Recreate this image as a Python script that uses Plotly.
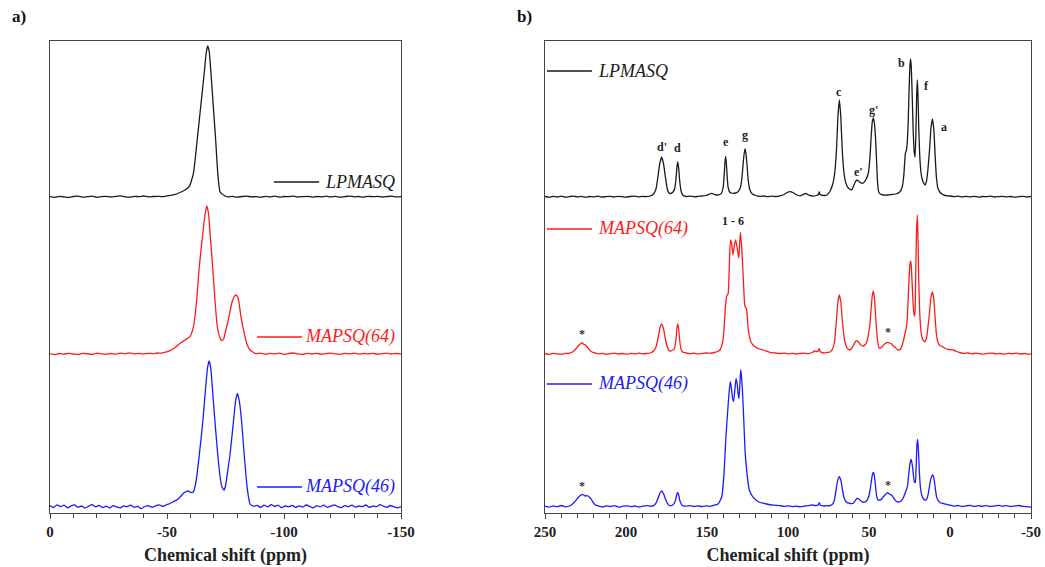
import plotly.graph_objects as go

# ---------------- data (ppm, intensity above own baseline, in plot units) ----------------
A_LPMASQ = [(0,0.4),(-2,-0.3),(-4,0.6),(-6,0.1),(-8,-0.4),(-10,0.5),(-12,0.9),(-14,-0.2),(-16,0.3),(-18,0.8),
 (-20,-0.3),(-22,0.4),(-24,0.7),(-26,0.0),(-28,0.6),(-30,1.1),(-32,0.2),(-34,-0.2),(-36,0.6),(-38,0.4),(-40,1.0),
 (-42,0.1),(-44,0.5),(-46,0.7),(-48,0.4),(-50,1.2),(-52,1.8),(-54.1,3.0),(-56,5.0),(-57.7,7.0),(-59.5,10.3),
 (-61.3,23.7),(-62.9,57),(-64.4,90.3),(-65.9,123.7),(-66.8,145),(-67.4,151),(-68.0,146),(-68.8,123.7),(-69.8,90.3),
 (-70.8,57),(-71.7,23.7),(-72.7,5),(-74.8,1),(-76,0.2),(-78,0.6),(-80,-0.2),(-82,0.5),(-84,0.9),(-86,0.1),(-88,0.4),
 (-90,-0.3),(-92,0.6),(-94,0.2),(-96,0.8),(-98,-0.1),(-100,0.5),(-102,0.3),(-104,0.9),(-106,0.0),(-108,0.4),(-110,0.7),
 (-112,-0.2),(-114,0.5),(-116,0.2),(-118,0.8),(-120,0.1),(-122,0.6),(-124,-0.2),(-126,0.4),(-128,0.9),(-130,0.2),
 (-132,0.5),(-134,-0.1),(-136,0.7),(-138,0.3),(-140,0.6),(-142,0.0),(-144,0.4),(-146,0.8),(-148,0.1),(-150,0.4)]

A_MAPSQ64 = [(0,0.3),(-2,-0.6),(-4,0.5),(-6,-0.2),(-8,0.7),(-10,0.0),(-12,-0.5),(-14,0.6),(-16,0.2),(-18,-0.4),
 (-20,0.8),(-22,0.1),(-24,-0.3),(-26,0.5),(-28,-0.2),(-30,0.9),(-32,0.3),(-34,1.2),(-36,0.2),(-38,0.6),(-40,-0.1),
 (-42,0.7),(-44,0.4),(-46,1.0),(-47.7,0.8),(-49.5,2.0),(-51.3,3.3),(-53.5,6.5),(-55.6,10.7),(-57.7,14),(-59.8,17.3),
 (-61.3,27.3),(-62.7,54),(-63.8,87.3),(-65.3,120.7),(-66.3,140),(-67.0,148),(-67.7,141),(-68.4,120.7),(-69.5,87.3),
 (-70.5,54),(-71.5,27),(-72.5,17),(-73.4,13.3),(-74.2,15),(-74.8,20.7),(-75.7,29),(-76.5,37.3),(-77.6,50),(-78.6,57),
 (-79.5,59),(-80.4,56),(-81.6,37.3),(-83.0,20.7),(-84.3,9),(-85.5,4),(-87,1.5),(-88,0.3),(-90,0.9),(-92,-0.2),
 (-94,0.6),(-96,0.1),(-98,0.8),(-100,-0.3),(-102,0.5),(-104,1.0),(-106,0.2),(-108,-0.4),(-110,0.6),(-112,0.0),
 (-114,0.7),(-116,-0.2),(-118,0.4),(-120,0.9),(-122,0.1),(-124,-0.3),(-126,0.6),(-128,0.2),(-130,0.8),(-132,-0.1),
 (-134,0.5),(-136,0.1),(-138,0.7),(-140,-0.2),(-142,0.4),(-144,0.8),(-146,0.0),(-148,0.5),(-150,0.2)]

A_MAPSQ46 = [(0,1.5),(-1.5,-0.5),(-3,2.2),(-4.5,0.3),(-6,1.8),(-7.5,-0.8),(-9,1.2),(-10.5,2.0),(-12,-0.4),(-13.5,1.0),
 (-15,-1.2),(-16.5,0.8),(-18,2.4),(-19.5,0.2),(-21,1.6),(-22.5,-0.6),(-24,0.9),(-25.5,-1.0),(-27,1.3),(-28.5,0.1),
 (-30,-0.8),(-31.5,1.1),(-33,0.4),(-34.5,1.9),(-36,-0.3),(-37.5,0.6),(-39,-1.6),(-40.5,0.5),(-42,1.4),(-43.5,-0.2),
 (-45,1.0),(-46.5,2.2),(-48.4,0.6),(-50,2.5),(-51.3,3.5),(-52.7,5.3),(-54.5,7.5),(-56,11),(-57,13.7),(-58.2,15.5),
 (-59.1,16),(-60.2,14.5),(-61.3,15.3),(-62.4,25.3),(-63.8,52),(-65.3,85.3),(-66.5,118.7),(-67.3,139),(-68.0,146),
 (-68.7,139),(-69.4,118.7),(-70.5,85.3),(-71.7,52),(-72.7,30),(-73.5,20),(-74.4,17),(-75.0,21),(-75.5,28.7),
 (-76.9,52),(-78.4,85.3),(-79.3,106),(-80.1,113.7),(-80.9,106),(-81.9,85.3),(-83.0,52),(-84.3,18.7),(-85.5,3),
 (-87,0.8),(-88.5,1.6),(-90,-0.5),(-91.5,1.8),(-93,0.2),(-94.5,2.4),(-96,0.5),(-97.5,1.9),(-99,-0.7),(-100.5,1.0),
 (-102,0.3),(-103.5,1.7),(-105,-0.4),(-106.5,1.2),(-108,0.0),(-109.5,2.0),(-111,0.6),(-112.5,-0.9),(-114,1.3),
 (-115.5,0.2),(-117,1.8),(-118.5,-0.3),(-120,0.9),(-121.5,2.1),(-123,0.4),(-124.5,-0.6),(-126,1.4),(-127.5,0.3),
 (-129,1.9),(-130.5,-0.2),(-132,1.0),(-133.5,0.4),(-135,2.0),(-136.5,-0.4),(-138,1.1),(-139.5,0.3),(-141,2.3),
 (-142.5,0.8),(-144,-0.3),(-145.5,1.5),(-147,0.2),(-148.5,-0.8),(-150,0.5)]

B_LPMASQ = [(250,0.5),(247.5,-0.3),(245,0.6),(242.5,0.0),(240,0.8),(237.5,-0.2),(235,0.4),(232.5,0.9),(230,0.1),
 (227.5,0.6),(225,-0.3),(222.5,0.5),(220,0.2),(217.5,0.8),(215,-0.1),(212.5,0.4),(210,0.7),(207.5,0.0),(205,0.6),
 (202.5,0.3),(200,-0.2),(197.5,0.5),(195,0.9),(192.5,0.2),(190,0.6),(187.5,0.4),
 (185,1),(183,3),(181.5,8),(180.3,20),(179.2,33),(178,40),(176.8,33),(175.7,20),(174.5,8),(173.5,4),(172.5,3.5),
 (171,5),(170,8),(169.2,17),(168.6,29),(168.1,35.3),(167.5,29),(166.9,17),(166,6),(165,2),(163,0.5),
 (160.5,0.9),(158,0.2),(155.5,0.6),(153,1.0),(150.5,1.5),(148.5,3),(147,3.7),(145.5,2.5),(144,2),
 (142,2.5),(141,4),(140,10),(139.3,24),(138.9,35),(138.5,40.3),(138.1,35),(137.6,22),(137,10),(136,5),(135,4),
 (133.8,3.7),(132.5,4),(131,5),(129.5,9),(128.5,18),(127.7,33),(127.1,43),(126.5,48),(125.9,43),(125.2,30),
 (124.5,16),(123.5,7),(122,3),(120,1.5),(117.5,0.6),(115,1.0),(112.5,0.3),(110,0.8),(107.5,0.5),(105,1.1),
 (102.5,2.5),(100.5,4.5),(98.8,5.3),(97,4.5),(95,2.5),(92.5,1.2),(90.5,2.5),(89,3.7),(87.5,2.2),(85,1.0),
 (82.5,1.5),(81.2,2.5),(80.7,5),(80.2,2.5),(78,1.5),(76,2),
 (74,6),(72.2,14),(71.1,25),(70.05,48),(69.2,80),(68.3,97),(67.4,80),(66.55,48),(65.5,25),(64.3,14),(62.8,9),
 (60.7,7),(59.5,11),(58.5,15),(57.6,17),(56.5,16),(55,14),(53.5,14),(52,17),(50.4,24),(49.4,40),(48.6,62),
 (47.9,76),(47.3,79),(46.7,74),(46.0,60),(45.3,35),(44.7,14),(44.0,5),(43,3),(41,2),(38.5,2),(36,2.5),(33.5,3),
 (31,5),(29.5,10),(28.5,22),(28,34),(27.5,44),(27.0,46),(26.5,52),(25.8,75),(25.2,110),(24.7,132),(24.3,138),
 (23.9,130),(23.3,100),(22.7,65),(22.1,45),(21.6,40),(21.1,60),(20.6,100),(20.2,117),(19.8,105),(19.3,70),
 (18.7,42),(18.0,26),(17.2,18),(16.3,14),(15.4,12),(14.5,16),(13.6,28),(12.6,48),(11.8,68),(10.9,78),(10.0,68),
 (9.2,42),(8.4,20),(7.5,9),(6.3,5),(5,3),(3,1.5),
 (0,1.0),(-2.5,0.3),(-5,0.8),(-7.5,0.1),(-10,0.6),(-12.5,0.2),(-15,0.7),(-17.5,-0.1),(-20,0.5),(-22.5,0.3),
 (-25,0.8),(-27.5,0.0),(-30,0.4),(-32.5,0.7),(-35,0.1),(-37.5,0.5),(-40,-0.2),(-42.5,0.4),(-45,0.6),(-47.5,0.0),(-50,0.3)]

B_MAPSQ64 = [(250,0.5),(247.5,-0.4),(245,0.7),(242.5,0.1),(240,-0.3),(237.5,0.6),(236,0.5),(233,2),(231,5),
 (229.5,8),(228,10.5),(227,11),(226,9.5),(225,9),(224,7),(222.5,4),(221,2),(219,1),(217,0.2),(214.5,0.7),
 (212,-0.3),(209.5,0.4),(207,0.9),(204.5,0.0),(202,0.5),(199.5,-0.2),(197,0.6),(194.5,0.2),(192,0.8),(189.5,0.1),
 (187,0.6),(185,1),(183,3),(181.5,7),(180.3,15),(179.2,25),(178,30),(176.8,25),(175.7,15),(174.5,7),(173.5,3.5),
 (172.5,3),(171,4),(170,6),(169.2,14),(168.6,25),(168.1,30),(167.5,25),(166.9,14),(166,5),(165,2),(163,1),
 (160.5,0.3),(158,0.8),(155.5,0.1),(153,0.6),(150.5,1.0),(148,0.8),(145.5,1.5),(143.5,2.5),
 (142,4),(140.3,12.3),(139.3,29),(138.7,45.7),(137.8,58.3),(137.0,60),(136.2,89),(135.5,114),(134.8,111),
 (134.0,99),(133.1,109),(132.3,114),(131.4,106),(130.4,96),(129.8,112),(129.3,121.5),(128.5,105),(127.5,72),
 (126.6,48),(125.6,45),(124.6,26),(123.0,12.3),(120.4,7.3),(117.5,5),(115.2,4),(111.1,1.7),(107.5,1.0),(105,0.5),
 (102.5,0.9),(100,0.2),(97.5,0.7),(95,0.0),(92.5,0.5),(90,0.8),(87.5,0.3),(85,1.5),(83.5,3),(82,2.5),(81.3,3),
 (80.8,5.7),(80.2,2.5),(78,1.0),(76,1.5),
 (74,2),(72.5,5),(71.3,12),(70.6,24),(69.9,38),(69.2,52),(68.3,59),(67.4,52),(66.7,38),(65.9,24),(65,13),
 (63.5,6),(62,4),(60.7,5.7),(59.5,9),(58.5,12),(57.6,13.3),(56.5,12),(55,9),(53.5,8),(52,10),(51,14),(50.3,20),
 (49.4,30),(48.7,45),(48,58),(47.3,63),(46.6,55),(46,40),(45.3,24),(44.6,12),(43.8,6),(43.2,5.7),(42,7),(41,9),
 (40,10.5),(38.5,11.7),(37.2,11),(36,10),(35,8),(33.9,6.7),(32.5,4.5),(31.5,4),(30.5,5),(29.5,9),(28.5,15),
 (27.6,22),(27.0,26),(26.4,35),(25.8,55),(25.2,78),(24.7,90),(24.3,93),(23.9,88),(23.3,68),(22.7,48),(22.1,38),
 (21.7,40),(21.2,75),(20.7,120),(20.2,139),(19.8,120),(19.3,75),(18.7,42),(18.0,24),(17.2,16),(16.3,13),
 (15.4,12.3),(14.5,16),(13.6,27),(12.6,42),(11.8,56),(10.9,62),(10.0,55),(9.2,36),(8.4,20),(7.5,12),(6.3,8.5),
 (5,7.7),(3,5.5),(1,4.5),(-2,4),(-4,2.5),(-6,1.5),(-8.5,0.6),(-11,1.0),(-13.5,0.2),(-16,0.8),(-18.5,0.3),
 (-21,-0.2),(-23.5,0.6),(-26,0.9),(-28.5,0.1),(-31,0.5),(-33.5,-0.2),(-36,0.7),(-38.5,0.3),(-41,0.8),(-43.5,0.0),
 (-46,0.5),(-48.5,-0.3),(-50,0.2)]

B_MAPSQ46 = [(250,0.6),(247.5,-0.5),(245,0.9),(242.5,0.0),(240,1.2),(237.5,-0.2),(235,0.7),(233.5,2),(232.5,3.4),
 (230.8,6.5),(229.4,9.4),(228,11.5),(227,12.4),(226,11.5),(225,10.7),(224.2,11),(223.3,10.7),(222.2,9),(221.2,6.7),
 (220.2,4),(219.2,2),(217,0.8),(214.5,-0.3),(212,0.9),(209.5,0.2),(207,1.1),(204.5,-0.4),(202,0.5),(199.5,0.9),
 (197,0.0),(194.5,0.7),(192,-0.3),(189.5,0.5),(187,1.0),(185,0.5),
 (183,1),(181.5,3.5),(180.3,8),(179.2,13),(178,15.7),(176.8,13),(175.7,8),(174.5,3.5),(173.5,1.5),(172.5,1),
 (171,2),(170,4),(169.2,8),(168.6,12.5),(168.1,14.4),(167.5,12),(166.9,7),(166,3),(165,1),(163,0.5),
 (160.5,1.0),(158,0.2),(155.5,0.8),(153,0.1),(150.5,0.9),(148,0.4),(145.5,1.5),(143,3),
 (140.9,10),(139.5,33),(138.3,70),(136.9,103),(136.0,120),(135.5,125),(134.8,117),(134.2,108),(133.6,105),
 (132.8,117),(132.1,128),(131.4,123),(130.8,113),(130.3,108),(129.7,122),(129.2,137),(128.6,128),(128.0,112),
 (127.3,86.7),(126.4,53.3),(125.1,30),(123.9,16.7),(121.8,10),(118.3,5),(113.2,2.7),(109,1.5),(105,1.0),
 (102.5,0.3),(100,0.9),(97.5,0.1),(95,0.6),(92.5,-0.2),(90,0.5),(87.5,1.0),(85,1.7),(83,1.2),(81.5,1.5),
 (80.7,4),(80,1.5),(78,0.7),(76,1.0),
 (74,1),(72.2,3),(71.2,8),(70.4,16),(69.5,25),(68.3,30),(67.2,25),(66.3,16),(65.4,9),(64.2,5),(62.5,3.5),
 (60.5,3),(59.7,3.4),(58.5,6),(57.3,8.4),(56,7.5),(54.5,5),(53,4.5),(51.5,6),(50.2,10),(49.3,17),(48.5,26),
 (47.8,33),(47.3,34.4),(46.8,32),(46.1,22),(45.4,12),(44.6,7),(43.2,6.7),(42,8),(41.1,10),(40,12),(38.5,14),
 (37.3,12.5),(36.0,11.7),(34.5,8),(32.9,5),(31,5),(29.5,7),(28.3,11),(27.2,15.7),(26.3,20),(25.5,32),(24.7,43),
 (24.0,47.4),(23.3,42),(22.6,32),(22.0,25),(21.4,24),(20.9,40),(20.4,62),(20.0,67.4),(19.6,60),(19.0,38),
 (18.3,20),(17.5,12),(16.5,8),(15.0,6.7),(14.0,9),(13.1,16),(12.2,25),(11.4,30),(10.7,31.7),(10.0,29),(9.2,20),
 (8.3,10),(7.3,6),(6.0,4),(4.3,3.4),(2.5,2.5),(0,1.5),(-2.5,0.5),(-5,1.2),(-7.5,0.2),(-10,0.9),(-12.5,1.4),
 (-15,0.3),(-17.5,1.0),(-20,0.4),(-22.5,1.1),(-25,0.2),(-27.5,0.8),(-30,1.3),(-32.5,0.5),(-35,1.0),(-37.5,0.1),
 (-40,0.7),(-42.5,1.2),(-45,0.4),(-47.5,0.0),(-50,-0.5)]

SERIES_NAMES = ["LPMASQ", "MAPSQ(64)", "MAPSQ(46)"]
SERIES_COLORS = ["#1a1a1a", "#ff1a1a", "#1a1aff"]
OFFSETS_A = [316, 159, 6]
OFFSETS_B = [316, 159, 6.3]

# peak assignment labels (panel b)
PEAK_LABELS = ["d'", "d", "e", "g", "c", "e'", "g'", "b", "f", "a", "1 - 6"]
PEAK_LABEL_PPM = [178, 168.1, 138.5, 126.5, 68.3, 56.4, 47.3, 29.8, 14.8, 3.5, 134]
PEAK_LABEL_Y = [366, 365, 371, 378, 421, 341, 403, 450, 427, 386, 292]
STAR_PPM = [227.4, 38.5, 227.4, 38.5]
STAR_Y = [179, 181, 27, 28]

A_TICKS = [0, -50, -100, -150]
A_TICKTEXT = ["0", "-50", "-100", "-150"]
B_TICKS = [250, 200, 150, 100, 50, 0, -50]
B_TICKTEXT = ["250", "200", "150", "100", "50", "0", "-50"]

FONT = "Liberation Serif"
W, H = 1045, 567

fig = go.Figure()

def add_series(data, offset, color, xa, ya):
    xs = [p[0] for p in data]
    ys = [p[1] + offset for p in data]
    fig.add_trace(go.Scatter(x=xs, y=ys, mode="lines", xaxis=xa, yaxis=ya,
                             line=dict(color=color, width=1.3, shape="spline", smoothing=0.5),
                             showlegend=False, hoverinfo="skip"))

for data, off, col in zip([A_LPMASQ, A_MAPSQ64, A_MAPSQ46], OFFSETS_A, SERIES_COLORS):
    add_series(data, off, col, "x", "y")
for data, off, col in zip([B_LPMASQ, B_MAPSQ64, B_MAPSQ46], OFFSETS_B, SERIES_COLORS):
    add_series(data, off, col, "x2", "y2")

ydom = [1 - 513 / H, 1 - 41 / H]
axis_common = dict(showline=True, linecolor="#444", linewidth=1.3, mirror=True,
                   showgrid=False, zeroline=False, automargin=False)
xcommon = dict(axis_common, ticks="outside", ticklen=5, tickwidth=1.2, tickcolor="#444",
               tickfont=dict(family=FONT, size=15, color="#222", weight="bold"),
               title=dict(text="Chemical shift (ppm)", standoff=9,
                          font=dict(family=FONT, size=18, color="#222", weight="bold")),
               tickmode="array")
ycommon = dict(axis_common, showticklabels=False, ticks="", range=[0, 472], domain=ydom)

fig.update_layout(
    width=W, height=H, autosize=False,
    margin=dict(l=0, r=0, t=0, b=0, autoexpand=False),
    paper_bgcolor="white", plot_bgcolor="white",
    xaxis=dict(xcommon, domain=[50 / W, 401 / W], range=[0, -150], anchor="y",
               tickvals=A_TICKS, ticktext=A_TICKTEXT,
               minor=dict(tickmode="array", tickvals=list(range(0, -151, -10)), ticks="outside",
                          ticklen=3.5, tickwidth=1, tickcolor="#444")),
    yaxis=dict(ycommon, anchor="x"),
    xaxis2=dict(xcommon, domain=[545 / W, 1031 / W], range=[250, -50], anchor="y2",
                tickvals=B_TICKS, ticktext=B_TICKTEXT,
                minor=dict(tickmode="array", tickvals=list(range(250, -51, -10)), ticks="outside",
                           ticklen=3.5, tickwidth=1, tickcolor="#444")),
    yaxis2=dict(ycommon, anchor="x2"),
)

ann = []
# panel letters
ann.append(dict(text="a)", x=10 / W, y=1 - 17 / H, xref="paper", yref="paper", showarrow=False,
                xanchor="left", yanchor="middle", font=dict(family=FONT, size=17, color="#111", weight="bold")))
ann.append(dict(text="b)", x=515 / W, y=1 - 17 / H, xref="paper", yref="paper", showarrow=False,
                xanchor="left", yanchor="middle", font=dict(family=FONT, size=17, color="#111", weight="bold")))

shapes = []
# legends panel a (line + italic label, right aligned)
A_LEG_Y = [331, 176, 26]
A_LEG_X0 = [-95.7, -88.5, -88.5]
A_LEG_X1 = [-115.0, -107.7, -107.7]
for name, col, ly, x0, x1 in zip(SERIES_NAMES, SERIES_COLORS, A_LEG_Y, A_LEG_X0, A_LEG_X1):
    shapes.append(dict(type="line", xref="x", yref="y", x0=x0, x1=x1, y0=ly, y1=ly,
                       line=dict(color=col, width=1.3)))
    ann.append(dict(text=name, x=-148.5, y=ly, xref="x", yref="y", showarrow=False,
                    xanchor="right", yanchor="middle",
                    font=dict(family=FONT, size=18, color=col, style="italic")))
# legends panel b (line + label, left aligned)
B_LEG_Y = [442, 284, 129]
for name, col, ly in zip(SERIES_NAMES, SERIES_COLORS, B_LEG_Y):
    shapes.append(dict(type="line", xref="x2", yref="y2", x0=248.8, x1=221.0, y0=ly, y1=ly,
                       line=dict(color=col, width=1.3)))
    ann.append(dict(text=name, x=218.5, y=ly, xref="x2", yref="y2", showarrow=False,
                    xanchor="left", yanchor="middle",
                    font=dict(family=FONT, size=18, color=col, style="italic")))

for lab, px, py in zip(PEAK_LABELS, PEAK_LABEL_PPM, PEAK_LABEL_Y):
    ann.append(dict(text=lab, x=px, y=py, xref="x2", yref="y2", showarrow=False,
                    xanchor="center", yanchor="middle",
                    font=dict(family=FONT, size=12, color="#222", weight="bold")))
for sx, sy in zip(STAR_PPM, STAR_Y):
    ann.append(dict(text="*", x=sx, y=sy, xref="x2", yref="y2", showarrow=False,
                    xanchor="center", yanchor="middle",
                    font=dict(family=FONT, size=12, color="#333", weight="bold")))

fig.update_layout(annotations=ann, shapes=shapes)
fig.write_html("out.html")
